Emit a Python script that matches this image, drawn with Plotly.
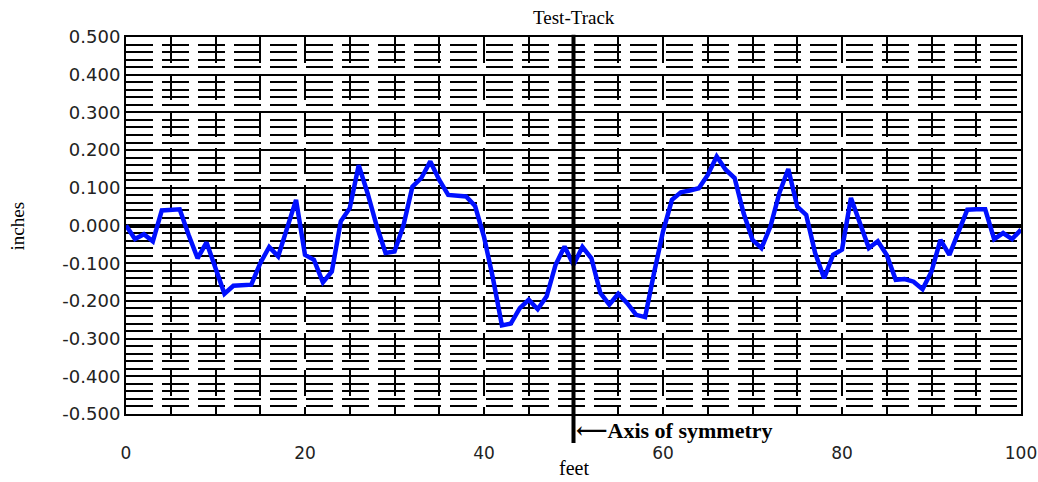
import plotly.graph_objects as go

# ---- data ----
feet = list(range(0, 101))
inches = [
    0.000, -0.036, -0.023, -0.042, 0.040, 0.042, 0.043, -0.025, -0.087, -0.045,
    -0.117, -0.181, -0.160, -0.158, -0.157, -0.100, -0.057, -0.082, -0.002, 0.068,
    -0.078, -0.091, -0.151, -0.122, 0.011, 0.046, 0.160, 0.085, 0.000, -0.073,
    -0.069, 0.000, 0.103, 0.126, 0.170, 0.121, 0.081, 0.080, 0.077, 0.052,
    -0.030, -0.140, -0.265, -0.260, -0.219, -0.197, -0.222, -0.188, -0.104, -0.056,
    -0.104,
    -0.057, -0.087, -0.179, -0.210, -0.181, -0.206, -0.237, -0.243, -0.126,
    -0.016, 0.068, 0.088, 0.093, 0.099, 0.134, 0.183, 0.148, 0.126, 0.033,
    -0.038, -0.060, -0.003, 0.086, 0.150, 0.050, 0.028, -0.073, -0.140, -0.078,
    -0.064, 0.073, 0.006, -0.060, -0.042, -0.078, -0.144, -0.142, -0.149, -0.169,
    -0.122, -0.038, -0.078, -0.016, 0.042, 0.043, 0.043, -0.036, -0.020, -0.036,
    -0.011,
]
y_tick_vals = [0.5, 0.4, 0.3, 0.2, 0.1, 0.0, -0.1, -0.2, -0.3, -0.4, -0.5]
y_tick_text = ["0.500", "0.400", "0.300", "0.200", "0.100", "0.000",
               "-0.100", "-0.200", "-0.300", "-0.400", "-0.500"]
x_tick_vals = [0, 20, 40, 60, 80, 100]
x_tick_text = ["0", "20", "40", "60", "80", "100"]
symmetry_x = 50
title_text = "Test-Track"
x_title = "feet"
y_title = "inches"
axis_note = "\u27f5Axis of symmetry"

SANS = "DejaVu Sans"
SERIF = "Liberation Serif, Times New Roman, DejaVu Serif, serif"

fig = go.Figure()
fig.add_trace(go.Scatter(
    x=feet, y=inches, mode="lines",
    line=dict(color="#0010ff", width=4.5),
    hoverinfo="skip", showlegend=False,
))

fig.update_layout(
    width=1038, height=482,
    margin=dict(l=126, r=17, t=37, b=68, pad=0, autoexpand=False),
    paper_bgcolor="white", plot_bgcolor="white",
    showlegend=False,
    xaxis=dict(
        range=[0, 100], tickmode="array", tickvals=x_tick_vals, ticktext=x_tick_text,
        ticks="", ticklabelstandoff=23, automargin=False, ticklabeloverflow="allow",
        tickfont=dict(family=SANS, size=17, color="#222"),
        showgrid=True, gridcolor="black", gridwidth=1.5, griddash="26px,11px",
        minor=dict(tickmode="linear", tick0=0, dtick=5, showgrid=True,
                   gridcolor="black", gridwidth=1.5, griddash="26px,11px"),
        showline=True, linecolor="black", linewidth=2, mirror=True,
        zeroline=False, fixedrange=True,
    ),
    yaxis=dict(
        range=[-0.5, 0.5], tickmode="array", tickvals=y_tick_vals, ticktext=y_tick_text,
        ticks="", ticklabelstandoff=0, automargin=False, ticklabeloverflow="allow",
        tickfont=dict(family=SANS, size=18, color="#222"),
        showgrid=True, gridcolor="black", gridwidth=1.5,
        minor=dict(tickmode="linear", tick0=0, dtick=0.02, showgrid=True,
                   gridcolor="black", gridwidth=1.5, griddash="27px,9px"),
        showline=True, linecolor="black", linewidth=2, mirror=True,
        zeroline=True, zerolinecolor="black", zerolinewidth=4, fixedrange=True,
    ),
)

# axis of symmetry: thick vertical line at x=50 extending below the plot
fig.add_shape(type="line", xref="x", yref="paper",
              x0=symmetry_x, x1=symmetry_x, y0=-0.077, y1=1.006,
              line=dict(color="black", width=4), layer="above")

fig.add_annotation(text=title_text, xref="x", yref="paper", x=symmetry_x, y=1.053,
                   showarrow=False, xanchor="center", yanchor="middle",
                   font=dict(family=SERIF, size=19, color="black"))
fig.add_annotation(text=y_title, xref="paper", yref="paper", x=-0.1207, y=0.5,
                   showarrow=False, textangle=-90, xanchor="center", yanchor="middle",
                   font=dict(family=SERIF, size=19, color="black"))
fig.add_annotation(text=x_title, xref="x", yref="paper", x=symmetry_x, y=-0.143,
                   showarrow=False, xanchor="center", yanchor="middle",
                   font=dict(family=SERIF, size=20, color="black"))
fig.add_annotation(text="<b>" + axis_note + "</b>", xref="x", yref="paper", x=50.2, y=-0.045,
                   showarrow=False, xanchor="left", yanchor="middle", borderpad=0,
                   font=dict(family=SERIF, size=22, color="black"))

fig.write_html(
    "out.html",
    config={"displayModeBar": False},
    post_script="document.body.style.margin='0';document.body.style.overflow='hidden';",
)
